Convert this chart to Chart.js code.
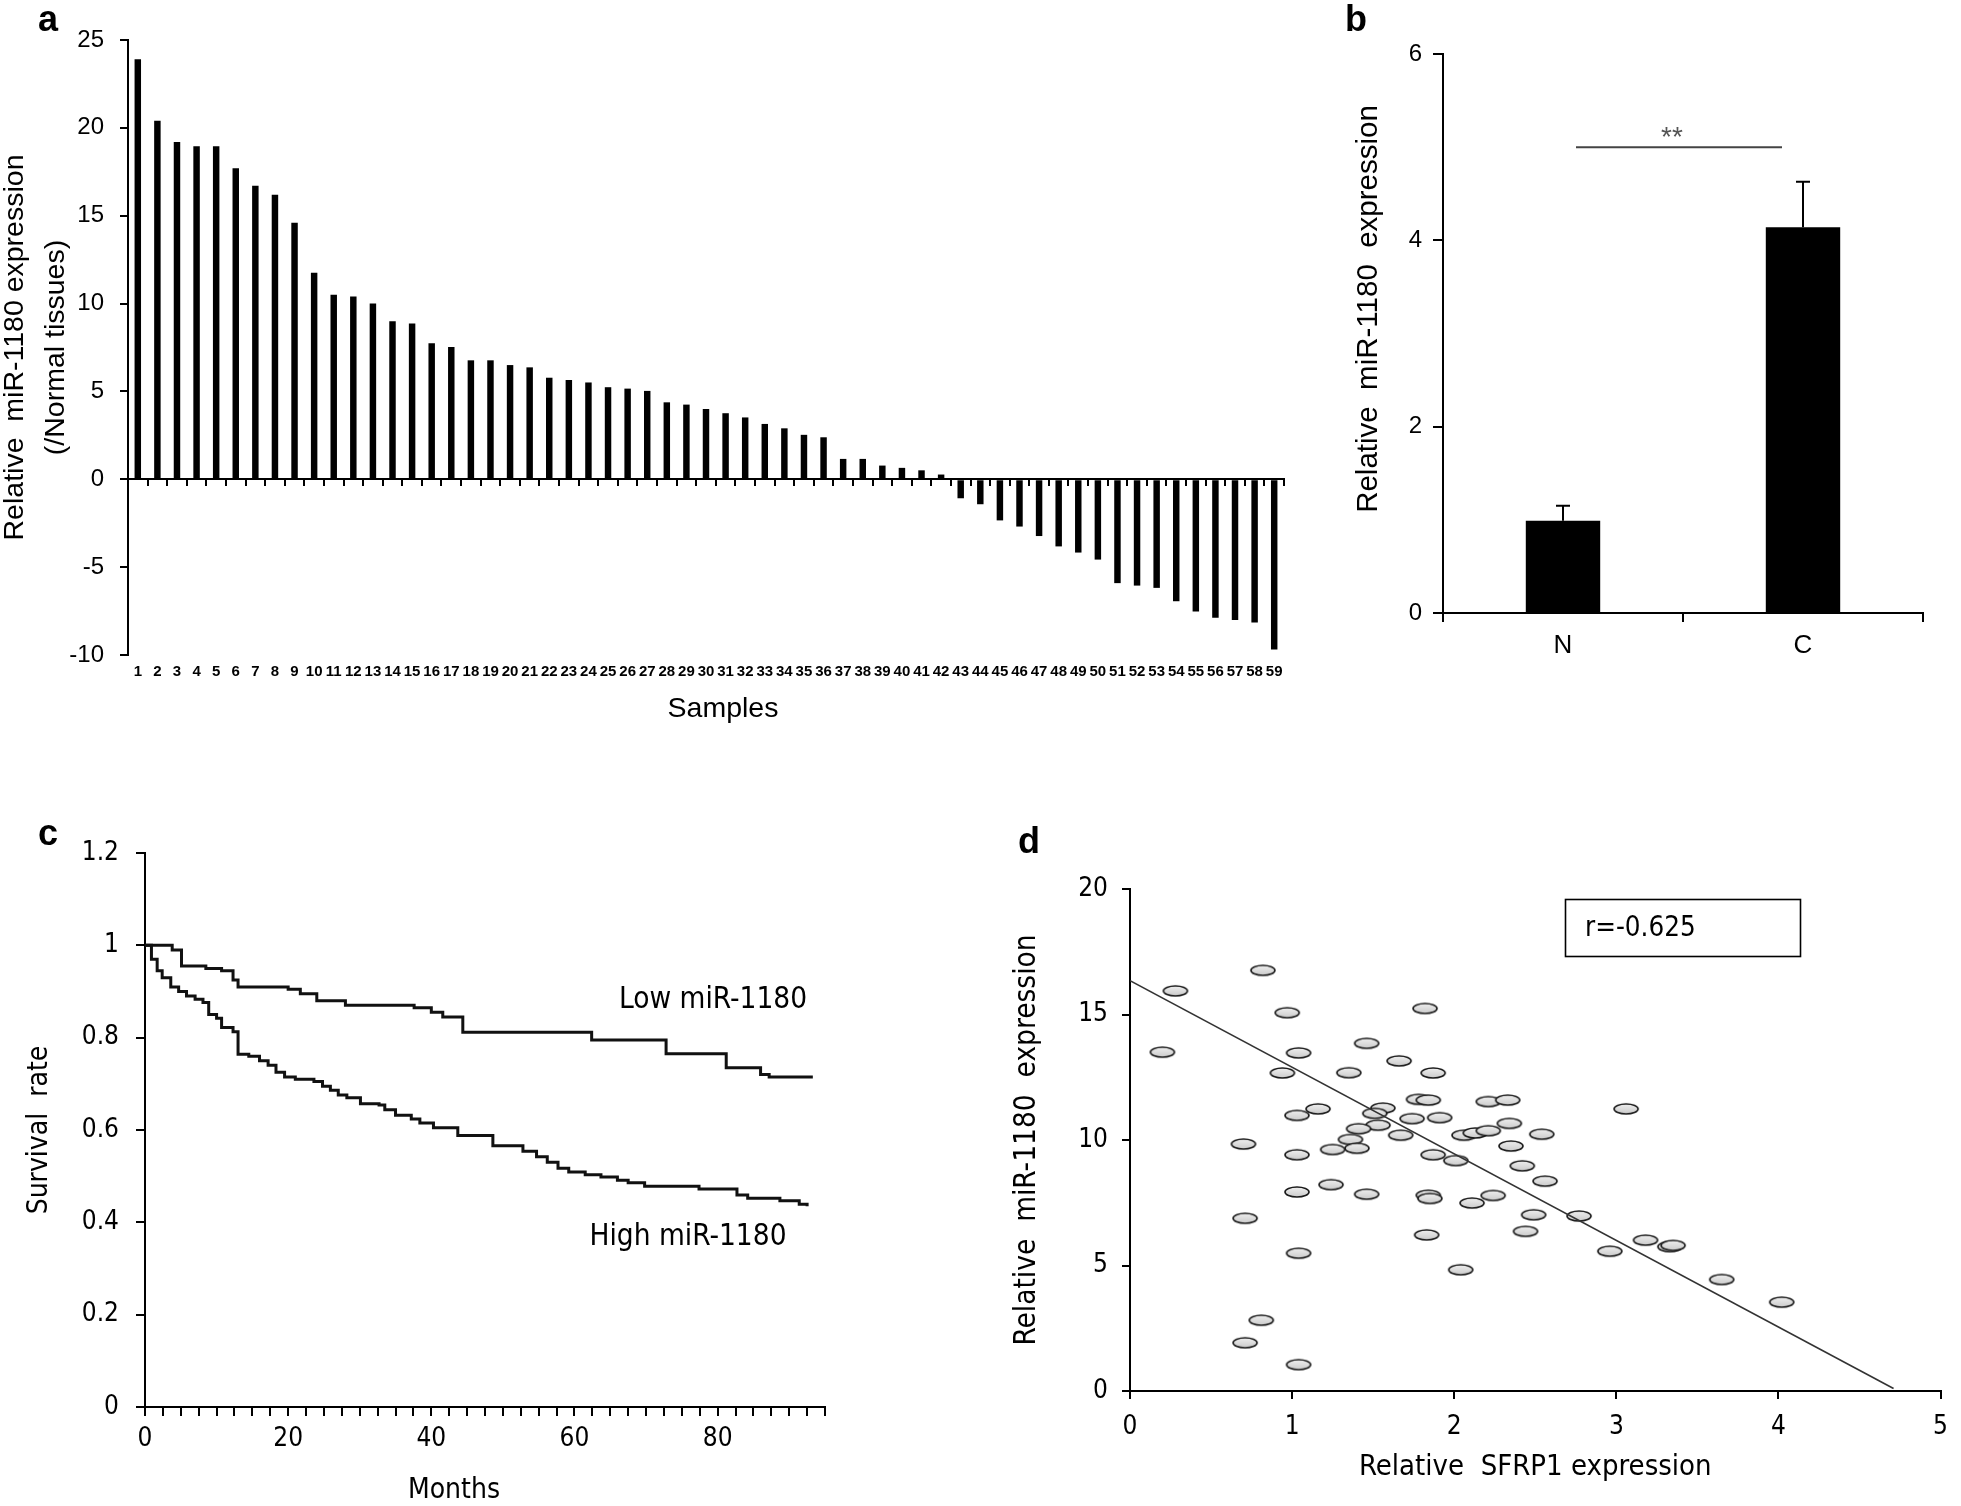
<!DOCTYPE html>
<html><head><meta charset="utf-8">
<script src="https://cdn.jsdelivr.net/npm/chart.js@4.4.1/dist/chart.umd.min.js"></script>
<style>
html,body{margin:0;padding:0;background:#fff;}
body{width:1961px;height:1506px;position:relative;overflow:hidden;}
canvas{position:absolute;}
</style></head><body>
<canvas id="ca" width="1300" height="740" style="left:0;top:0"></canvas>
<canvas id="cb" width="661" height="740" style="left:1300px;top:0"></canvas>
<canvas id="cc" width="850" height="706" style="left:0;top:800px"></canvas>
<canvas id="cd" width="961" height="686" style="left:1000px;top:820px"></canvas>
<script>
// ---------- DATA ----------
const sampleLabels = ['1','2','3','4','5','6','7','8','9','10','11','12','13','14','15','16','17','18','19','20',
 '21','22','23','24','25','26','27','28','29','30','31','32','33','34','35','36','37','38','39','40',
 '41','42','43','44','45','46','47','48','49','50','51','52','53','54','55','56','57','58','59'];
const sampleValues = [23.9,20.4,19.2,18.95,18.95,17.7,16.7,16.2,14.6,11.75,
 10.5,10.4,10.0,9.0,8.87,7.74,7.53,6.77,6.77,6.5,
 6.37,5.78,5.65,5.51,5.24,5.16,5.03,4.38,4.25,4.0,
 3.76,3.52,3.15,2.9,2.53,2.39,1.16,1.16,0.78,0.65,
 0.51,0.27,-1.08,-1.42,-2.34,-2.69,-3.23,-3.82,-4.17,-4.57,
 -5.91,-6.05,-6.18,-6.94,-7.53,-7.88,-8.01,-8.15,-9.68];

const groupLabels = ['N','C'];
const groupMeans = [0.99, 4.14];
const groupErrors = [0.16, 0.49];
const sigLevel = 5.0;

const lowMonths = [0,3.8,5.1,8.5,10.7,12.3,13.0,20.0,21.7,24.0,28.0,37.6,40.0,41.6,44.4,62.4,72.8,81.2,86.0,87.2,93.3];
const lowSurv   = [1.0,0.99,0.955,0.95,0.945,0.925,0.91,0.905,0.895,0.88,0.87,0.865,0.855,0.845,0.812,0.795,0.765,0.735,0.72,0.715,0.715];
const highMonths = [0,0.9,1.7,2.4,3.6,4.7,5.8,7.0,8.1,8.9,10.0,10.7,12.3,13.0,14.5,16.0,17.2,18.3,19.5,21.0,
 23.6,24.8,25.9,27.0,28.2,30.1,32.7,33.5,35.0,37.2,38.4,40.3,43.7,48.6,52.8,54.7,56.2,57.7,59.2,61.5,
 63.7,66.0,67.5,69.8,77.4,82.7,84.2,88.7,91.4,92.5];
const highSurv = [1.0,0.97,0.945,0.93,0.91,0.90,0.89,0.883,0.876,0.85,0.842,0.822,0.813,0.764,0.76,0.75,0.74,0.725,0.715,0.71,
 0.705,0.695,0.686,0.676,0.67,0.657,0.654,0.644,0.632,0.624,0.615,0.605,0.588,0.566,0.554,0.542,0.53,0.517,0.509,0.503,
 0.498,0.491,0.486,0.478,0.472,0.459,0.452,0.447,0.439,0.435];

const sfrpX = [0.20,0.28,0.82,0.97,0.94,1.04,1.03,1.16,0.70,1.03,
 1.03,0.71,1.04,0.81,0.71,1.04,1.35,1.46,1.66,1.82,
 1.78,1.84,1.87,1.91,1.74,1.56,1.51,1.53,1.41,1.36,
 1.40,1.25,1.67,1.24,1.46,1.87,1.84,1.85,1.83,2.01,
 2.06,2.13,2.21,2.11,2.24,2.04,2.21,2.33,2.34,2.35,
 2.42,2.54,2.56,2.49,2.44,2.77,3.06,2.96,3.18,3.33,
 3.35,3.65,4.02];
const mirY = [13.5,15.94,16.76,15.07,12.67,13.47,10.98,11.24,9.84,9.41,
 7.93,6.88,5.49,2.82,1.92,1.05,12.68,13.85,13.15,15.24,
 11.62,11.59,12.67,10.89,10.85,11.27,11.06,10.59,10.45,10.02,
 9.67,9.62,10.19,8.22,7.84,9.41,7.80,7.67,6.22,9.18,
 10.19,10.28,10.37,7.49,7.79,4.83,11.53,11.59,10.66,9.76,
 8.97,10.23,8.36,7.02,6.36,6.97,11.24,5.57,6.01,5.75,
 5.80,4.44,3.54];
const fitX = [0, 4.71];
const fitY = [16.35, 0.1];
const rText = 'r=-0.625';

// ---------- HELPERS ----------
const ARIAL = "'Liberation Sans', Arial, sans-serif";
const NARROW = "'Liberation Sans Narrow', 'DejaVu Sans Condensed', 'Liberation Sans', sans-serif";
function fixSize(w, h){ return function(scale){ if (w != null) scale.width = w; if (h != null) scale.height = h; }; }
function textPlugin(items){
  return { id:'txt', afterDraw(chart){
    const ctx = chart.ctx;
    for (const it of items){
      ctx.save();
      ctx.translate(it.x, it.y);
      if (it.rot) ctx.rotate(it.rot);
      ctx.font = it.font; ctx.fillStyle = it.color || '#000';
      ctx.textAlign = it.align || 'left'; ctx.textBaseline = it.baseline || 'alphabetic';
      ctx.fillText(it.text, 0, 0);
      ctx.restore();
    }
  }};
}
const base = { responsive:false, animation:false, events:[], plugins:{legend:{display:false}, tooltip:{enabled:false}} };
const axisGrid = (tl) => ({display:true, drawOnChartArea:false, drawTicks:true, tickLength:tl, color:'#000', lineWidth:2});
const axisBorder = {display:true, color:'#000', width:2};

// ---------- PANEL A ----------
new Chart(document.getElementById('ca'), {
  type:'bar',
  data:{ labels: sampleLabels, datasets:[{ data: sampleValues, backgroundColor:'#000', borderWidth:0, barPercentage:0.33, categoryPercentage:1 }]},
  options:Object.assign({}, base, {
    layout:{padding:{left:0,right:16,top:40,bottom:0}},
    scales:{
      x:{ type:'category', position:'bottom', offset:true,
          grid:{display:false, drawTicks:false}, border:{display:false},
          ticks:{ autoSkip:false, maxRotation:0, minRotation:0, padding:8, color:'#000', font:{family:ARIAL, size:15, weight:'bold'} },
          afterFit: fixSize(null, 85) },
      x0:{ type:'category', axis:'x', position:{y:0}, offset:true,
          grid:Object.assign(axisGrid(6), {offset:true}), border:axisBorder, ticks:{display:false} },
      y:{ type:'linear', min:-10, max:25,
          ticks:{ stepSize:5, color:'#000', padding:16, font:{family:ARIAL, size:24} },
          grid:axisGrid(8), border:axisBorder,
          title:{ display:true, text:['Relative  miR-1180 expression','(/Normal tissues)'], color:'#000',
                  font:{family:ARIAL, size:28.5, lineHeight:1.44}, padding:{top:-5.5,bottom:0} },
          afterFit: fixSize(128, null) }
    }
  }),
  plugins:[ textPlugin([
    {text:'a', x:38, y:31, font:'bold 36px '+ARIAL},
    {text:'Samples', x:723, y:709, align:'center', baseline:'middle', font:'28.5px '+ARIAL}
  ]) ]
});

// ---------- PANEL B ----------
const errPlugin = { id:'err', afterDatasetsDraw(chart){
  const ctx = chart.ctx, y = chart.scales.y, meta = chart.getDatasetMeta(0);
  ctx.save(); ctx.strokeStyle = '#000'; ctx.lineWidth = 2;
  groupMeans.forEach((m, i) => {
    const x = meta.data[i].x, yt = y.getPixelForValue(m + groupErrors[i]), yb = y.getPixelForValue(m);
    ctx.beginPath(); ctx.moveTo(x, yb); ctx.lineTo(x, yt); ctx.moveTo(x - 7, yt); ctx.lineTo(x + 7, yt); ctx.stroke();
  });
  const ys = y.getPixelForValue(sigLevel), x1 = meta.data[0].x + 13, x2 = meta.data[1].x - 21;
  ctx.strokeStyle = '#444'; ctx.beginPath(); ctx.moveTo(x1, ys); ctx.lineTo(x2, ys); ctx.stroke();
  ctx.fillStyle = '#555'; ctx.font = '28px ' + ARIAL; ctx.textAlign = 'center'; ctx.textBaseline = 'alphabetic';
  ctx.fillText('**', (x1 + x2) / 2 - 7, ys - 1);
  ctx.restore();
}};
new Chart(document.getElementById('cb'), {
  type:'bar',
  data:{ labels: groupLabels, datasets:[{ data: groupMeans, backgroundColor:'#000', borderWidth:0, barPercentage:0.31, categoryPercentage:1 }]},
  options:Object.assign({}, base, {
    layout:{padding:{left:0,right:38,top:54,bottom:0}},
    scales:{
      x:{ type:'category', offset:true, grid:Object.assign(axisGrid(9), {offset:true}), border:axisBorder,
          ticks:{ padding:8, color:'#000', font:{family:ARIAL, size:26} }, afterFit: fixSize(null, 127) },
      y:{ type:'linear', min:0, max:6, ticks:{ stepSize:2, color:'#000', padding:11, font:{family:ARIAL, size:24} },
          grid:axisGrid(10), border:axisBorder,
          afterFit: fixSize(143, null) }
    }
  }),
  plugins:[ errPlugin, textPlugin([
    {text:'b', x:45, y:31, font:'bold 36px '+ARIAL},
    {text:'Relative  miR-1180  expression', x:69, y:309, rot:-Math.PI/2, align:'center', baseline:'middle', font:'29.5px '+ARIAL}
  ]) ]
});

// ---------- PANEL C ----------
new Chart(document.getElementById('cc'), {
  type:'line',
  data:{ datasets:[
    { data: lowMonths.map((m,i)=>({x:m, y:lowSurv[i]})), borderColor:'#111', borderWidth:3, pointRadius:0, stepped:'before', fill:false },
    { data: highMonths.map((m,i)=>({x:m, y:highSurv[i]})), borderColor:'#111', borderWidth:3, pointRadius:0, stepped:'before', fill:false }
  ]},
  options:Object.assign({}, base, {
    layout:{autoPadding:false, padding:{left:0,right:25,top:53,bottom:0}},
    scales:{
      x:{ type:'linear', min:0, max:95,
          ticks:{ stepSize:2.5, autoSkip:false, maxRotation:0, padding:8, color:'#000', font:{family:NARROW, size:26},
                  callback:(v)=> (v % 20 === 0 ? String(v) : '') },
          grid:axisGrid(9), border:axisBorder,
          afterFit: fixSize(null, 99) },
      y:{ type:'linear', min:0, max:1.2,
          ticks:{ stepSize:0.2, color:'#000', padding:17, font:{family:NARROW, size:26},
                  callback:(v)=> String(Math.round(v * 10) / 10) },
          grid:axisGrid(9), border:axisBorder,
          title:{ display:true, text:'Survival  rate', color:'#000', font:{family:NARROW, size:28}, padding:{top:23,bottom:0} },
          afterFit: fixSize(145, null) }
    }
  }),
  plugins:[ textPlugin([
    {text:'c', x:38, y:45, font:'bold 36px '+ARIAL},
    {text:'Low miR-1180', x:713, y:200, align:'center', baseline:'middle', font:'29.5px '+NARROW},
    {text:'High miR-1180', x:688, y:437, align:'center', baseline:'middle', font:'29.5px '+NARROW},
    {text:'Months', x:454, y:691, align:'center', baseline:'middle', font:'28px '+NARROW}
  ]) ]
});

// ---------- PANEL D ----------
function makeEllipse(){
  const c = document.createElement('canvas'); c.width = 28; c.height = 14;
  const g = c.getContext('2d');
  const grd = g.createLinearGradient(0, 1, 0, 13); grd.addColorStop(0, '#f2f2f2'); grd.addColorStop(1, '#c8c8c8');
  g.beginPath(); g.ellipse(14, 7, 12, 5, 0, 0, Math.PI * 2);
  g.fillStyle = grd; g.fill(); g.lineWidth = 1.6; g.strokeStyle = '#1a1a1a'; g.stroke();
  return c;
}
const ell = makeEllipse();
const boxPlugin = { id:'rbox', afterDraw(chart){
  const ctx = chart.ctx; ctx.save();
  ctx.strokeStyle = '#000'; ctx.lineWidth = 1.6; ctx.strokeRect(565.5, 79.5, 235, 57);
  ctx.fillStyle = '#000'; ctx.font = '27.5px ' + NARROW; ctx.textAlign = 'left'; ctx.textBaseline = 'middle';
  ctx.fillText(rText, 585, 109);
  ctx.restore();
}};
new Chart(document.getElementById('cd'), {
  type:'scatter',
  data:{ datasets:[
    { type:'line', data: fitX.map((v,i)=>({x:v, y:fitY[i]})), borderColor:'#333', borderWidth:1.6, pointRadius:0, fill:false },
    { type:'scatter', data: sfrpX.map((v,i)=>({x:v, y:mirY[i]})), pointStyle: ell, pointRadius:12 }
  ]},
  options:Object.assign({}, base, {
    layout:{autoPadding:false, padding:{left:0,right:0,top:69,bottom:0}},
    scales:{
      x:{ type:'linear', min:0, max:5, ticks:{ stepSize:1, padding:13, color:'#000', font:{family:NARROW, size:26} },
          grid:axisGrid(8), border:axisBorder,
          title:{ display:true, text:'Relative  SFRP1 expression', color:'#000', font:{family:NARROW, size:29}, padding:{top:0,bottom:21.5} },
          afterFit: fixSize(null, 115) },
      y:{ type:'linear', min:0, max:20, ticks:{ stepSize:5, padding:14, color:'#000', font:{family:NARROW, size:26} },
          grid:axisGrid(8), border:axisBorder,
          title:{ display:true, text:'Relative  miR-1180  expression', color:'#000', font:{family:NARROW, size:29.5}, padding:{top:10,bottom:0} },
          afterFit: fixSize(130, null) }
    }
  }),
  plugins:[ boxPlugin, textPlugin([{text:'d', x:18, y:33, font:'bold 36px '+ARIAL}]) ]
});
</script>
</body></html>
